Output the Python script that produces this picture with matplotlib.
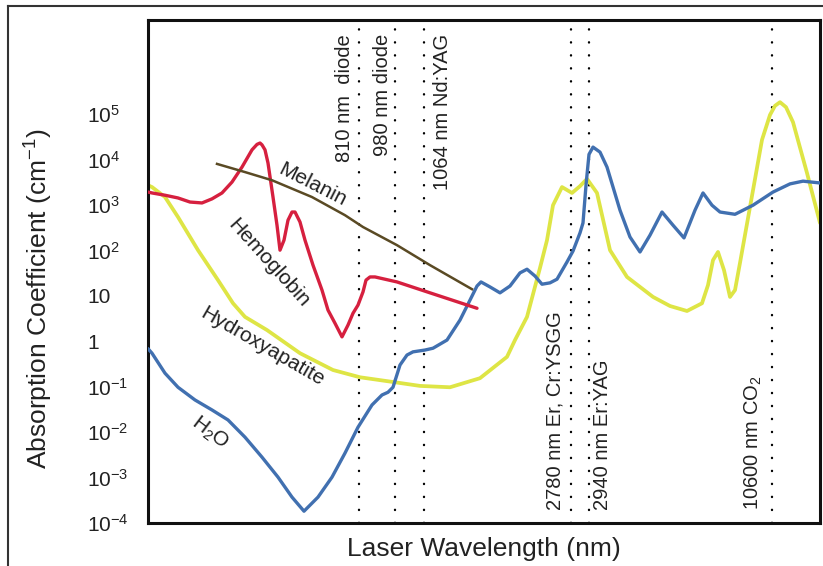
import numpy as np
import matplotlib
matplotlib.use('Agg')
import matplotlib.pyplot as plt
import matplotlib.transforms as mtransforms
from matplotlib.lines import Line2D
from matplotlib.ticker import NullLocator

plt.rcParams['font.family'] = ['Liberation Sans', 'DejaVu Sans']
plt.rcParams['mathtext.fontset'] = 'custom'
plt.rcParams['mathtext.rm'] = 'Liberation Sans'
plt.rcParams['mathtext.it'] = 'Liberation Sans:italic'

# x is a position along the (unlabelled) wavelength axis, y is log10 of absorption (cm^-1)
h2o_x = [0, 4, 17, 30, 47, 64, 80, 97, 114, 130, 144, 156, 170, 184, 197, 210, 224, 234, 240, 245,
         252, 259, 265, 277, 285, 299, 312, 322, 329, 333, 342, 352, 362, 372, 379, 387, 394, 402,
         409, 419, 425, 432, 435, 438, 441, 445, 452, 459, 472, 482, 492, 502, 514, 525, 536, 547,
         555, 564, 572, 587, 605, 625, 642, 655, 672]
h2o_y = [-0.30, -0.40, -0.84, -1.15, -1.43, -1.65, -1.87, -2.25, -2.69, -3.13, -3.57, -3.88, -3.57,
         -3.13, -2.60, -2.03, -1.54, -1.32, -1.26, -1.15, -0.66, -0.44, -0.37, -0.33, -0.29, -0.11,
         0.33, 0.77, 1.08, 1.17, 1.06, 0.93, 1.08, 1.37, 1.45, 1.30, 1.12, 1.15, 1.23, 1.61, 1.85,
         2.25, 2.47, 3.30, 3.98, 4.14, 4.03, 3.70, 2.75, 2.16, 1.83, 2.20, 2.71, 2.42, 2.14, 2.75,
         3.13, 2.86, 2.71, 2.66, 2.86, 3.15, 3.33, 3.39, 3.35]

hap_x = [0, 4, 17, 30, 50, 70, 85, 97, 119, 152, 185, 212, 247, 272, 302, 332, 359, 367, 379, 392,
         399, 405, 414, 424, 432, 439, 449, 462, 479, 505, 522, 539, 554, 560, 565, 570, 576, 582,
         587, 592, 605, 614, 622, 627, 632, 638, 645, 659, 672]
hap_y = [3.30, 3.26, 3.04, 2.60, 1.87, 1.21, 0.70, 0.40, 0.11, -0.40, -0.77, -0.93, -1.04, -1.12,
         -1.15, -0.95, -0.48, -0.11, 0.40, 1.48, 2.09, 2.86, 3.26, 3.13, 3.28, 3.44, 3.13, 1.87,
         1.28, 0.84, 0.64, 0.53, 0.70, 1.10, 1.65, 1.83, 1.43, 0.84, 0.99, 1.59, 3.19, 4.30, 4.85,
         5.05, 5.13, 5.02, 4.69, 3.57, 2.47]

hb_x = [0, 4, 17, 30, 42, 54, 64, 74, 84, 94, 104, 109, 112, 114, 117, 120, 125, 129, 132, 136,
        140, 144, 147, 152, 157, 165, 174, 180, 187, 194, 200, 205, 210, 215, 218, 222, 227, 249,
        282, 329]
hb_y = [3.15, 3.13, 3.08, 3.02, 2.93, 2.91, 3.00, 3.13, 3.37, 3.70, 4.08, 4.20, 4.23, 4.19, 4.08,
        3.79, 3.04, 2.42, 1.87, 2.09, 2.53, 2.71, 2.71, 2.49, 2.09, 1.54, 0.99, 0.55, 0.26, -0.04,
        0.22, 0.48, 0.66, 0.95, 1.21, 1.28, 1.28, 1.17, 0.93, 0.59]

mel_x = [69, 97, 124, 164, 197, 215, 249, 282, 324]
mel_y = [3.77, 3.59, 3.41, 3.04, 2.64, 2.38, 1.98, 1.54, 1.01]

laser_names = ['810 nm  diode', '980 nm diode', '1064 nm Nd:YAG',
               '2780 nm Er, Cr:YSGG', '2940 nm Er:YAG', '10600 nm CO$_2$']
laser_pos = [211, 247, 276, 423, 441, 624]
label_dx = [-15, -12, 19, -16, 14, -19]
label_top = [True, True, True, False, False, False]

tick_exp = [-4, -3, -2, -1, 0, 1, 2, 3, 4, 5]
tick_labels = ['10$^{-4}$', '10$^{-3}$', '10$^{-2}$', '10$^{-1}$', '1', '10',
               '10$^2$', '10$^3$', '10$^4$', '10$^5$']

txt = '#222222'

fig = plt.figure(figsize=(8.23, 5.66), dpi=100)
ax = fig.add_axes([148 / 823, 1 - 523 / 566, 672 / 823, 503 / 566])
ax.set_yscale('log')

for x in laser_pos:
    ax.axvline(x, color='black', lw=1.7, linestyle=(0, (0.1, 5.4)),
               dash_capstyle='round', zorder=1)

ax.plot(h2o_x, 10 ** np.array(h2o_y), color='#4170b0', lw=2.4, solid_joinstyle='round',
        solid_capstyle='round', zorder=3)
ax.plot(hap_x, 10 ** np.array(hap_y), color='#dee545', lw=2.7, solid_joinstyle='round',
        solid_capstyle='round', zorder=2)
ax.plot(hb_x, 10 ** np.array(hb_y), color='#d6203f', lw=2.4, solid_joinstyle='round',
        solid_capstyle='round', zorder=4)
ax.plot(mel_x, 10 ** np.array(mel_y), color='#5a4a24', lw=1.8, zorder=4)

ax.set_xlim(0, 672)
ax.set_ylim(10 ** -4.14, 10 ** 6.94)

ax.set_xticks([])
ax.set_yticks([10.0 ** e for e in tick_exp])
ax.set_yticklabels(tick_labels)
ax.yaxis.set_minor_locator(NullLocator())
ax.tick_params(axis='y', length=0, pad=44, labelsize=15, labelcolor=txt)
shift = mtransforms.ScaledTranslation(0, -4.5 / 72, fig.dpi_scale_trans)
for t in ax.get_yticklabels():
    t.set_horizontalalignment('left')
    t.set_transform(t.get_transform() + shift)

for s in ax.spines.values():
    s.set_linewidth(2.2)
    s.set_color('#111111')

# curve names
ax.text(164, 10 ** 3.30, 'Melanin', rotation=-27, fontsize=15, color=txt,
        ha='center', va='center', rotation_mode='anchor')
ax.text(121, 10 ** 1.59, 'Hemoglobin', rotation=-48, fontsize=15, color=txt,
        ha='center', va='center', rotation_mode='anchor')
ax.text(114, 10 ** -0.26, 'Hydroxyapatite', rotation=-30, fontsize=15, color=txt,
        ha='center', va='center', rotation_mode='anchor')
ax.text(62, 10 ** -2.16, 'H$_2$O', rotation=-37, fontsize=15, color=txt,
        ha='center', va='center', rotation_mode='anchor')

# laser labels
for name, x, dx, top in zip(laser_names, laser_pos, label_dx, label_top):
    if top:
        ax.text(x + dx, 0.972, name, rotation=90, fontsize=14.5, color=txt,
                ha='center', va='top', transform=ax.get_xaxis_transform())
    else:
        ax.text(x + dx, 0.026, name, rotation=90, fontsize=14.5, color=txt,
                ha='center', va='bottom', transform=ax.get_xaxis_transform())

ax.set_xlabel('Laser Wavelength (nm)', fontsize=19, color=txt, labelpad=10)
fig.text(39 / 823, 1 - 299 / 566, 'Absorption Coefficient (cm$^{-1}$)', rotation=90,
         fontsize=19, color=txt, ha='center', va='center')

# outer frame of the figure
fig.add_artist(Line2D([8 / 823, 8 / 823], [0, 1 - 6 / 566], transform=fig.transFigure,
                      color='#333333', lw=1.5))
fig.add_artist(Line2D([8 / 823, 1], [1 - 6 / 566, 1 - 6 / 566], transform=fig.transFigure,
                      color='#333333', lw=1.5))

fig.savefig('out.png', dpi=100)
